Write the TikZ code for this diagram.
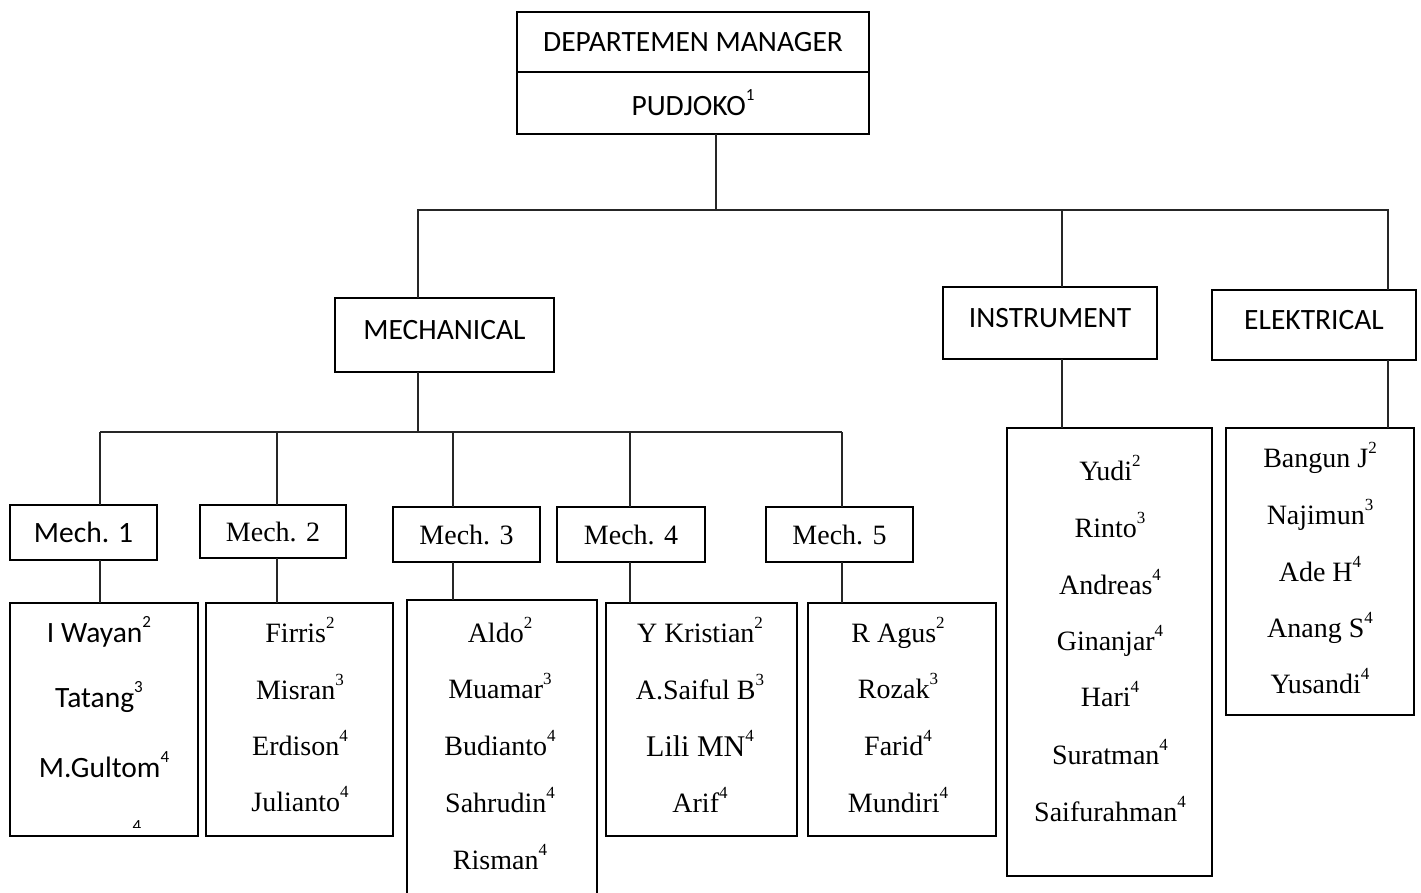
\documentclass[tikz,border=0pt]{standalone}
\usepackage{fontspec}
\setmainfont{Liberation Serif}
\newfontfamily\calibrifont{Carlito}
\newcommand\sps[1]{\raisebox{0.5em}{\fontsize{17}{18}\selectfont #1}}
\begin{document}
\begin{tikzpicture}[x=1pt,y=-1pt,
  box/.style={draw, line width=2pt, inner sep=0pt, outer sep=0pt},
  conn/.style={line width=1.1pt, draw=black!85},
  cal/.style={font=\calibrifont\fontsize{29.5}{32}\selectfont},
  tms/.style={font=\fontsize{28}{32}\selectfont},
  up/.style={text depth=10pt},
  nm/.style={anchor=base, inner sep=0pt}]
\clip (0,0) rectangle (1421,893);
% top box
\node[box,cal,minimum width=352pt,minimum height=60pt] (topA) at (693,42) {DEPARTEMEN MANAGER};
\node[box,cal,minimum width=352pt,minimum height=62pt] (topB) at (693,103) {PUDJOKO\sps{1}};
% second level
\node[box,cal,up,minimum width=219pt,minimum height=74pt] (mech) at (444.5,335) {MECHANICAL};
\node[box,cal,up,minimum width=214pt,minimum height=72pt] (instr) at (1050,323) {INSTRUMENT};
\node[box,cal,up,minimum width=204pt,minimum height=70pt] (elek) at (1314,325) {ELEKTRICAL};
% mech groups
\node[box,cal,minimum width=147pt,minimum height=55pt] (m1) at (83.5,532.5) {Mech. 1};
\node[box,tms,minimum width=146pt,minimum height=53pt] (m2) at (273,531.5) {Mech. 2};
\node[box,tms,minimum width=147pt,minimum height=55pt] (m3) at (466.5,534.5) {Mech. 3};
\node[box,tms,minimum width=148pt,minimum height=55pt] (m4) at (631,534.5) {Mech. 4};
\node[box,tms,minimum width=147pt,minimum height=55pt] (m5) at (839.5,534.5) {Mech. 5};
% list boxes
\node[box,minimum width=188pt,minimum height=233pt] (l1) at (104,719.5) {};
\node[box,minimum width=187pt,minimum height=233pt] (l2) at (299.5,719.5) {};
\node[box,minimum width=190pt,minimum height=305pt] (l3) at (502,752.5) {};
\node[box,minimum width=191pt,minimum height=233pt] (l4) at (701.5,719.5) {};
\node[box,minimum width=188pt,minimum height=233pt] (l5) at (902,719.5) {};
\node[box,minimum width=205pt,minimum height=448pt] (li) at (1109.5,652) {};
\node[box,minimum width=188pt,minimum height=287pt] (le) at (1320,571.5) {};
% names
\node[nm,cal] (a1) at (99,642) {I Wayan\sps{2}};
\node[nm,cal] (a2) at (99,707) {Tatang\sps{3}};
\node[nm,cal] (a3) at (104,777) {M.Gultom\sps{4}};
\begin{scope}
\clip (120,800) rectangle (160,827);
\node[nm,font=\calibrifont\fontsize{17}{18}\selectfont] (a4) at (137,831) {4};
\end{scope}
\node[nm,tms] (b1n) at (300,642) {Firris\sps{2}};
\node[nm,tms] (b2n) at (300,699) {Misran\sps{3}};
\node[nm,tms] (b3n) at (300,755) {Erdison\sps{4}};
\node[nm,tms] (b4n) at (300,811) {Julianto\sps{4}};
\node[nm,tms] (c1n) at (500,642) {Aldo\sps{2}};
\node[nm,tms] (c2n) at (500,698) {Muamar\sps{3}};
\node[nm,tms] (c3n) at (500,755) {Budianto\sps{4}};
\node[nm,tms] (c4n) at (500,812) {Sahrudin\sps{4}};
\node[nm,tms] (c5n) at (500,869) {Risman\sps{4}};
\node[nm,tms] (d1n) at (700,642) {Y Kristian\sps{2}};
\node[nm,tms] (d2n) at (700,699) {A.Saiful B\sps{3}};
\node[nm,font=\fontsize{30}{32}\selectfont] (d3n) at (700,756) {Lili MN\sps{4}};
\node[nm,tms] (d4n) at (700,812) {Arif\sps{4}};
\node[nm,tms] (e1n) at (898,642) {R Agus\sps{2}};
\node[nm,tms] (e2n) at (898,698) {Rozak\sps{3}};
\node[nm,tms] (e3n) at (898,755) {Farid\sps{4}};
\node[nm,tms] (e4n) at (898,812) {Mundiri\sps{4}};
\node[nm,tms] (i1n) at (1110,480) {Yudi\sps{2}};
\node[nm,tms] (i2n) at (1110,537) {Rinto\sps{3}};
\node[nm,tms] (i3n) at (1110,594) {Andreas\sps{4}};
\node[nm,tms] (i4n) at (1110,650) {Ginanjar\sps{4}};
\node[nm,tms] (i5n) at (1110,706) {Hari\sps{4}};
\node[nm,tms] (i6n) at (1110,764) {Suratman\sps{4}};
\node[nm,tms] (i7n) at (1110,821) {Saifurahman\sps{4}};
\node[nm,tms] (k1n) at (1320,467) {Bangun J\sps{2}};
\node[nm,tms] (k2n) at (1320,524) {Najimun\sps{3}};
\node[nm,tms] (k3n) at (1320,581) {Ade H\sps{4}};
\node[nm,tms] (k4n) at (1320,637) {Anang S\sps{4}};
\node[nm,tms] (k5n) at (1320,693) {Yusandi\sps{4}};
% connectors
\coordinate (t) at (716,210);
\coordinate (mx) at (418,210);
\coordinate (ix) at (1062,210);
\coordinate (ex) at (1388,210);
\coordinate (bm) at (418,432);
\coordinate (c1) at (100,432);
\coordinate (c2) at (277,432);
\coordinate (c3) at (453,432);
\coordinate (c4) at (630,432);
\coordinate (c5) at (842,432);
\draw[conn] (t |- topB.south) -- (t);
\draw[conn] (mech.north -| mx) -- (mx) -- (ex) -- (elek.north -| ex);
\draw[conn] (ix) -- (instr.north -| ix);
\draw[conn] (instr.south -| ix) -- (li.north -| ix);
\draw[conn] (elek.south -| ex) -- (le.north -| ex);
\draw[conn] (mech.south -| bm) -- (bm);
\draw[conn] (c1) -- (c5);
\foreach \i in {1,...,5}{
  \draw[conn] (c\i) -- (m\i.north -| c\i);
  \draw[conn] (m\i.south -| c\i) -- (l\i.north -| c\i);
}
\end{tikzpicture}
\end{document}
